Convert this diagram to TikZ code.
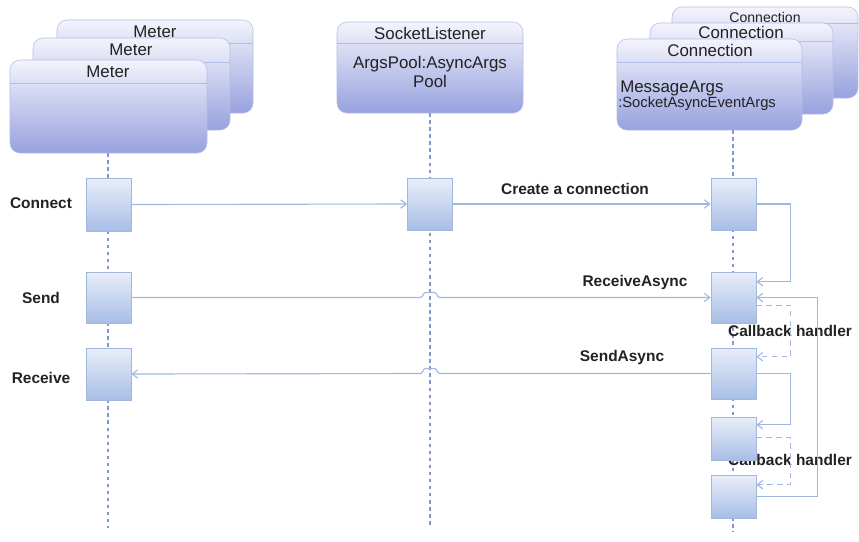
\documentclass[tikz,border=0pt]{standalone}
\usepackage{fontspec}
\setmainfont{Liberation Sans}
\usepackage{tikz}
\usetikzlibrary{arrows.meta, positioning, calc}

\definecolor{headtop}{HTML}{F3F4FC}
\definecolor{headbot}{HTML}{97A1DE}
\definecolor{headline}{HTML}{B4BCE6}
\definecolor{acttop}{HTML}{E8EEF9}
\definecolor{actbot}{HTML}{A8BEE6}
\definecolor{actline}{HTML}{A3B7DE}
\definecolor{msgline}{HTML}{A2B7E0}
\definecolor{lifeline}{HTML}{8497D2}
\definecolor{ink}{HTML}{222222}

% one pixel of the drawing
\newcommand{\pxu}{0.025cm}

\begin{document}
\begin{tikzpicture}[x=0.025cm, y=-0.025cm,
    every node/.style={text=ink, inner sep=0pt},
    head/.style={draw=headline, rounded corners=10*\pxu, top color=headtop, bottom color=headbot,
        minimum width=#1*\pxu},
    headrule/.style={path picture={\draw[headline, line width=0.7pt]
        ([yshift=-#1*\pxu]path picture bounding box.north west) -- ([yshift=-#1*\pxu]path picture bounding box.north east);}},
    title/.style={font=\fontsize{12}{14}\selectfont},
    act/.style={draw=actline, top color=acttop, bottom color=actbot, minimum width=45*\pxu, minimum height=#1*\pxu},
    life/.style={lifeline, line width=0.8pt, dash pattern=on 2.5pt off 2.5pt},
    msg/.style={msgline, line width=0.8pt, -{Straight Barb[length=4pt, width=6pt]}},
    cb/.style={msg, dash pattern=on 4pt off 3pt},
    lbl/.style={font=\bfseries\fontsize{11}{13}\selectfont}]

\useasboundingbox (0,0) rectangle (859,541);

% meter heads, back to front
\node[head=196, minimum height=93*\pxu, headrule=23] (m3) at (155,66.5) {};
\node[title] (m3t) at (155,32) {Meter};
\node[head=197, minimum height=92*\pxu, headrule=24] (m2) at (131.5,84) {};
\node[title] (m2t) at (131,50) {Meter};
\node[head=197, minimum height=93*\pxu, headrule=23] (m1) at (108.5,106.5) {};
\node[title] (m1t) at (108,72) {Meter};

% socket listener head
\node[head=186, minimum height=91*\pxu, headrule=21] (sl) at (430,67.5) {};
\node[title] (slt) at (430,33) {SocketListener};
\node[title, align=center] (slb) at (430,72) {ArgsPool:AsyncArgs\\[-1pt]Pool};

% connection heads, back to front
\node[head=186, minimum height=91*\pxu, headrule=16] (c0c) at (765,52.5) {};
\node[font=\fontsize{10}{12}\selectfont] (c0ct) at (765,17) {Connection};
\node[head=183, minimum height=91*\pxu, headrule=18] (c0b) at (741.5,68.5) {};
\node[title] (c0bt) at (741,32) {Connection};
\node[head=185, minimum height=91*\pxu, headrule=23] (c0a) at (709.5,84.5) {};
\node[title] (c0at) at (710,50) {Connection};
\node[anchor=west, font=\fontsize{12}{14}\selectfont] (margs) at (620,88) {MessageArgs};
\node[anchor=west, font=\fontsize{10.5}{12}\selectfont] (mtype) at (618,104) {:SocketAsyncEventArgs};

% lifelines
\coordinate (mLine) at (108,528);
\coordinate (sLine) at (430,528);
\coordinate (cLine) at (733,532);
\draw[life] (m1.south -| mLine) -- (mLine);
\draw[life] (sl.south) -- (sLine);
\draw[life] (c0a.south -| cLine) -- (cLine);

% labels (the second callback text sits under its box)
\node[lbl] (lconn) at (41,203) {Connect};
\node[lbl] (lsend) at (41,298) {Send};
\node[lbl] (lrecv) at (41,378) {Receive};
\node[lbl] (lcreate) at (575,189) {Create a connection};
\node[lbl] (lrasync) at (635,282) {ReceiveAsync};
\node[lbl] (lsasync) at (622,357) {SendAsync};
\node[lbl] (lcb1) at (790,331) {Callback handler};
\node[lbl] (lcb2) at (790,460) {Callback handler};

% activations
\node[act=53] (mConn) at (108.5,204.5) {};
\node[act=51] (mSend) at (108.5,297.5) {};
\node[act=52] (mRecv) at (108.5,374) {};
\node[act=52] (sConn) at (430,204) {};
\node[act=52] (c1) at (733.5,204) {};
\node[act=51] (c2) at (733.5,297.5) {};
\node[act=51] (c3) at (733.5,373.5) {};
\node[act=43] (c4) at (733.5,438.5) {};
\node[act=43] (c5) at (733.5,496.5) {};

% messages
\draw[msg] (mConn.east) -- (sConn.west);
\draw[msg] (sConn.east) -- (c1.west);
\draw[msg] (c1.east) -- ++(34,0) |- ([yshift=-10*\pxu]c2.north east);
\draw[msg, rounded corners=1pt] (mSend.east) -- ($(sLine |- mSend.east)+(-8,0)$) -- ++(2,-5) -- ++(12,0) -- ++(2,5) -- (c2.west);
\draw[msg, rounded corners=1pt] (c3.west) -- ($(sLine |- c3.west)+(8,0)$) -- ++(-2,-5) -- ++(-12,0) -- ++(-2,5) -- (mRecv.east);
\draw[cb] ([yshift=18*\pxu]c2.south east) -- ++(34,0) |- ([yshift=-9*\pxu]c3.north east);
\draw[msg] (c3.east) -- ++(34,0) |- ([yshift=-8*\pxu]c4.north east);
\draw[cb] ([yshift=-21*\pxu]c4.north east) -- ++(34,0) |- ([yshift=-10*\pxu]c5.north east);
\draw[msg] (c5.east) -- ++(61,0) |- (c2.east);

\end{tikzpicture}
\end{document}
